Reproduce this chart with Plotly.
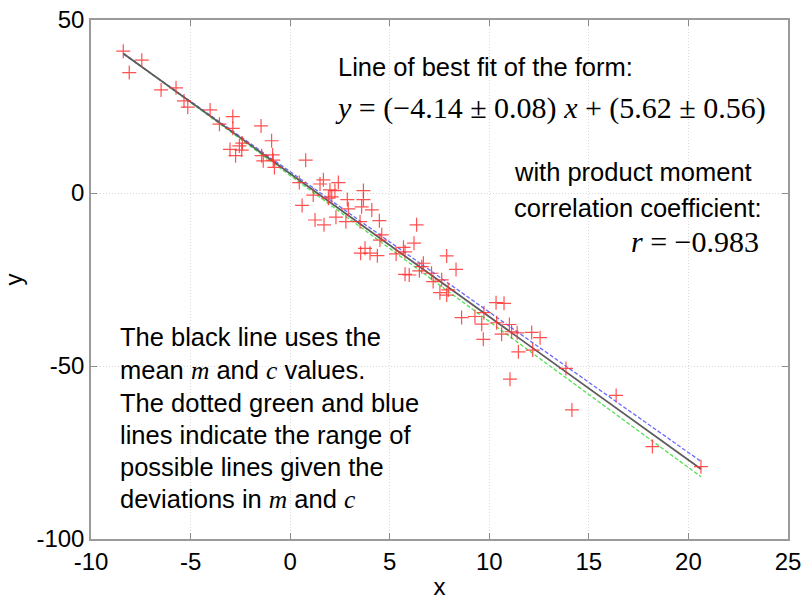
import plotly.graph_objects as go

# ---- data ----
x_data = [-8.38, -7.45, -8.08, -6.48, -5.73, -5.33, -5.14, -4.02, -2.88, -3.55,
          -2.88, -1.46, -0.93, -2.40, -2.55, -3.02, -2.74, -2.43, -1.43, -1.35,
          -0.88, -0.85, -0.79, 0.78, 0.46, 0.60, 1.25, 1.70, 1.16, 1.50,
          1.67, 2.00, 2.09, 1.92, 2.42, 2.25, 2.30, 2.80, 2.87, 2.92,
          3.68, 3.68, 3.59, 4.10, 3.51, 4.48, 4.60, 4.51, 3.54, 3.76,
          4.01, 4.38, 5.32, 5.69, 5.77, 6.22, 6.35, 6.61, 6.69, 6.49,
          5.77, 5.98, 7.10, 7.18, 7.52, 7.86, 7.86, 7.61, 7.94, 8.33,
          8.61, 9.28, 9.62, 9.70, 9.73, 10.34, 10.74, 10.37, 10.62, 11.01,
          11.12, 11.40, 11.46, 12.13, 12.55, 12.18, 13.85, 11.04, 14.15, 16.37,
          18.19, 20.63]
y_data = [41.0, 38.4, 34.8, 29.8, 30.4, 26.6, 24.8, 24.0, 22.1, 19.9,
          18.7, 19.4, 15.1, 14.4, 13.6, 12.6, 10.8, 12.4, 10.8, 9.3,
          11.0, 9.5, 7.4, 9.5, 3.0, -3.6, -7.8, -9.2, -0.6, 2.6,
          3.8, 0.9, -1.1, -1.5, 3.0, 0.7, -7.0, -8.3, -1.9, -4.6,
          0.7, -1.9, -4.0, -4.9, -8.3, -8.0, -12.1, -13.6, -17.4, -16.0,
          -17.4, -18.1, -17.6, -15.7, -17.0, -14.5, -9.2, -21.3, -20.3, -22.5,
          -23.5, -23.7, -23.2, -25.6, -28.8, -18.2, -29.5, -25.1, -28.0, -22.1,
          -36.0, -35.7, -37.9, -42.3, -34.6, -31.7, -31.9, -37.5, -40.8, -38.0,
          -40.1, -40.4, -45.9, -40.3, -41.8, -45.4, -50.7, -53.8, -62.7, -58.5,
          -73.3, -79.1]

m, dm = -4.14, 0.08
c, dc = 5.62, 0.56

x_ticks = [-10, -5, 0, 5, 10, 15, 20, 25]
y_ticks = [-100, -50, 0, 50]

xl = [min(x_data), max(x_data)]

fig = go.Figure()
fig.add_trace(go.Scatter(x=xl, y=[(m + dm) * v + (c + dc) for v in xl], mode="lines",
                         line=dict(color="#6a6aff", width=1.3, dash="4px,2px"), showlegend=False))
fig.add_trace(go.Scatter(x=xl, y=[(m - dm) * v + (c - dc) for v in xl], mode="lines",
                         line=dict(color="#55e055", width=1.3, dash="4px,2px"), showlegend=False))
fig.add_trace(go.Scatter(x=xl, y=[m * v + c for v in xl], mode="lines",
                         line=dict(color="#5c5c5c", width=1.8), showlegend=False))
fig.add_trace(go.Scatter(x=x_data, y=y_data, mode="markers",
                         marker=dict(symbol="cross-thin-open", size=10, color="rgba(255,50,50,0.85)",
                                     line=dict(color="rgba(255,50,50,0.85)", width=1.2)),
                         showlegend=False))

L, R, T, B = 91, 788, 20, 539
W, H = 803, 600


def px(xp):
    return (xp - L) / (R - L)


def py(yp):
    return 1 - (yp - T) / (B - T)


SANS = "Liberation Sans, Arial, sans-serif"
SERIF = "Liberation Serif, Times New Roman, serif"


def ann(text, x, y, xanchor="left", size=25.5, family=SANS):
    fig.add_annotation(text=text, x=px(x), y=py(y), xref="paper", yref="paper",
                       xanchor=xanchor, yanchor="middle", showarrow=False,
                       font=dict(family=family, size=size, color="black"))


def it(s):
    return f"<span style='font-family:{SERIF}'><i>{s}</i></span>"


ann("Line of best fit of the form:", 336, 67)
ann("<i>y</i> = (−4.14 ± 0.08) <i>x</i> + (5.62 ± 0.56)", 333, 108, size=30, family=SERIF)
ann("with product moment", 512, 172)
ann("correlation coefficient:", 512, 208)
ann("<i>r</i> = −0.983", 761, 241, xanchor="right", size=30, family=SERIF)

lines = ["The black line uses the",
         f"mean {it('m')} and {it('c')} values.",
         "The dotted green and blue",
         "lines indicate the range of",
         "possible lines given the",
         f"deviations in {it('m')} and {it('c')}"]
ys = [337, 370, 403, 435, 467, 499]
for t, yy in zip(lines, ys):
    ann(t, 118, yy)

axis_common = dict(showgrid=True, gridcolor="#d8d8d8", griddash="1px,2px", gridwidth=1,
                   showline=True, linecolor="#9a9a9a", linewidth=1.5, mirror="ticks",
                   ticks="inside", ticklen=6, tickcolor="#8a8a8a", tickwidth=1.2,
                   zeroline=False, automargin=False,
                   tickfont=dict(family=SANS, size=24, color="black"))

fig.update_xaxes(range=[-10, 25], tickvals=x_ticks, ticktext=[str(v) for v in x_ticks],
                 title=dict(text="x", font=dict(family=SANS, size=24, color="black"), standoff=6),
                 **axis_common)
fig.update_yaxes(range=[-100, 50], tickvals=y_ticks, ticktext=[str(v) for v in y_ticks],
                 title=dict(text="y", font=dict(family=SANS, size=24, color="black"), standoff=12),
                 **axis_common)

fig.update_layout(width=W, height=H, margin=dict(l=L, r=W - R, t=T, b=H - B),
                  plot_bgcolor="white", paper_bgcolor="white", showlegend=False)

fig.write_html("out.html")
